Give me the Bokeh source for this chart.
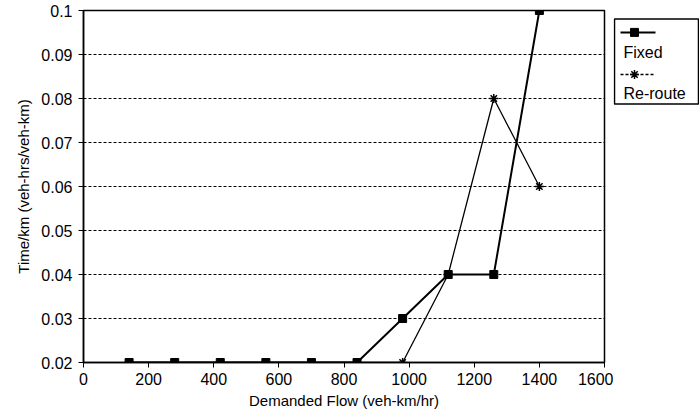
from bokeh.plotting import figure
from bokeh.models import FixedTicker, ColumnDataSource
from bokeh.layouts import row
from bokeh.core.properties import value
from bokeh.embed import file_html
from bokeh.resources import INLINE

# ---- data ----
flow = [140, 280, 420, 560, 700, 840, 980, 1120, 1260, 1400]
fixed_time = [0.02, 0.02, 0.02, 0.02, 0.02, 0.02, 0.03, 0.04, 0.04, 0.10]
reroute_time = [0.02, 0.02, 0.02, 0.02, 0.02, 0.02, 0.02, 0.04, 0.08, 0.06]
x_ticks = [0, 200, 400, 600, 800, 1000, 1200, 1400, 1600]
y_ticks = [0.02, 0.03, 0.04, 0.05, 0.06, 0.07, 0.08, 0.09, 0.10]
y_tick_labels = ["0.02", "0.03", "0.04", "0.05", "0.06", "0.07", "0.08", "0.09", "0.1"]
series_names = ["Fixed", "Re-route"]

FONT = "Liberation Sans"
H = 418

p = figure(width=613, height=H, output_backend="svg", toolbar_location=None,
           x_range=(0, 1600), y_range=(0.02, 0.10),
           min_border_left=83, min_border_top=10, min_border_right=9, min_border_bottom=56)
p.frame_width = 521
p.frame_height = 352

p.background_fill_color = "white"
p.border_fill_color = "white"
p.outline_line_color = "black"
p.outline_line_width = 1.5

p.xgrid.visible = False
p.ygrid.grid_line_color = "black"
p.ygrid.grid_line_dash = "3 2"
p.ygrid.grid_line_width = 1
p.ygrid.ticker = FixedTicker(ticks=y_ticks)

p.xaxis.ticker = FixedTicker(ticks=x_ticks)
p.yaxis.ticker = FixedTicker(ticks=y_ticks)
p.yaxis.major_label_overrides = {t: l for t, l in zip(y_ticks, y_tick_labels)}

for ax in (p.xaxis[0], p.yaxis[0]):
    ax.axis_line_color = "black"
    ax.axis_line_width = 1.5
    ax.major_tick_line_color = "black"
    ax.major_tick_out = 5
    ax.major_tick_in = 0
    ax.minor_tick_line_color = None
    ax.major_label_text_font = FONT
    ax.major_label_text_font_size = "16px"
    ax.major_label_text_color = "black"
    ax.axis_label_text_font = FONT
    ax.axis_label_text_font_size = "15px"
    ax.axis_label_text_font_style = "normal"
    ax.axis_label_text_color = "black"

p.xaxis.axis_label = "Demanded Flow (veh-km/hr)"
p.yaxis.axis_label = "Time/km (veh-hrs/veh-km)"
p.xaxis.major_label_standoff = 5
p.xaxis.axis_label_standoff = 4
p.yaxis.major_label_standoff = 6
p.yaxis.axis_label_standoff = 6

src = ColumnDataSource(dict(x=flow, fixed=fixed_time, reroute=reroute_time))

p.line("x", "reroute", source=src, line_color="black", line_width=1.3)
p.scatter("x", "reroute", source=src, marker="asterisk", size=9,
          line_color="black", line_width=1.5)
p.line("x", "fixed", source=src, line_color="black", line_width=2)
p.scatter("x", "fixed", source=src, marker="square", size=8,
          fill_color="black", line_color="black")

# ---- legend panel (glyph sample above its label, as in the reference) ----
# drawn in a small side figure whose units are pixels, measured from the top
LW = 86
lg = figure(width=LW, height=H, output_backend="svg", toolbar_location=None,
            x_range=(0, LW), y_range=(H, 0),
            min_border_left=0, min_border_right=0, min_border_top=0, min_border_bottom=0)
lg.axis.visible = False
lg.grid.visible = False
lg.outline_line_color = None
lg.background_fill_color = "white"
lg.border_fill_color = "white"

box_l, box_r, box_t, box_b = 1, LW - 1, 10, 111
lg.quad(left=[box_l], right=[box_r], top=[box_t], bottom=[box_b],
        fill_color="white", line_color="black", line_width=1.5)

sample_x0, sample_x1, sample_mid, text_x = 7, 42, 21, 10
row_y = [26, 50, 76, 98]

lg.line([sample_x0, sample_x1], [row_y[0], row_y[0]], line_color="black", line_width=2)
lg.scatter([sample_mid], [row_y[0]], marker="square", size=8,
           fill_color="black", line_color="black")
lg.line([sample_x0, sample_x1], [row_y[2], row_y[2]], line_color="black",
        line_width=1.3, line_dash="3 2")
lg.scatter([sample_mid], [row_y[2]], marker="asterisk", size=9,
           line_color="black", line_width=1.5)
lg.text(x=[text_x, text_x], y=[row_y[1], row_y[3]], text=series_names,
        text_font=value(FONT), text_font_size="16px", text_color="black",
        text_baseline="middle", text_align="left")

layout = row(p, lg, spacing=0)
open("out.html", "w").write(file_html(layout, INLINE))
